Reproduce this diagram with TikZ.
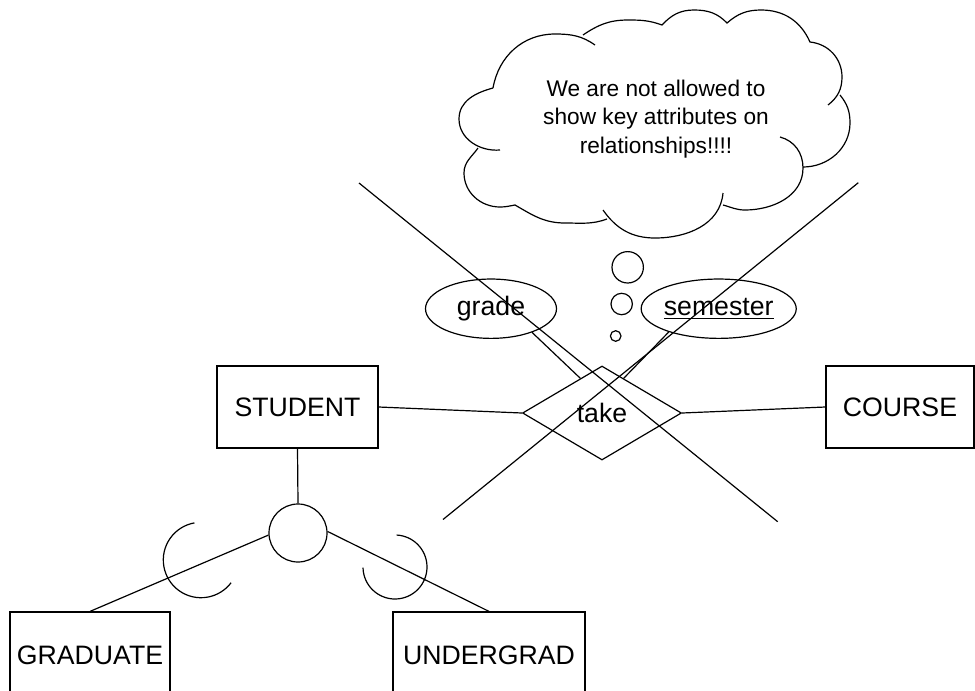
\documentclass[tikz,border=0pt]{standalone}
\usepackage{fontspec}
\setmainfont{Liberation Sans}
\usetikzlibrary{shapes.geometric}
\newcommand{\erfont}{\fontsize{20}{24}\selectfont}
\tikzset{
  entity/.style={draw, rectangle, inner sep=0pt, minimum height=61.5pt, font=\erfont},
  attrib/.style={draw, ellipse, inner sep=0pt, minimum height=44.5pt, font=\erfont},
  relship/.style={draw, diamond, aspect=1.7, inner sep=0pt, minimum width=119.25pt, minimum height=70.5pt, font=\erfont},
  isacircle/.style={draw, circle, inner sep=0pt, minimum size=43.5pt},
}

\begin{document}
\begin{tikzpicture}[x=0.75pt, y=0.75pt, line width=0.9pt]
\useasboundingbox (0,0) rectangle (975,-690);
\clip (0,0) rectangle (975,-690);
% Entities
\node[entity, minimum width=120.75pt] (student) at (297.5,-407) {STUDENT};
\node[entity, minimum width=111pt] (course) at (900,-407) {COURSE};
\node[entity, minimum width=120pt, minimum height=64.5pt] (graduate) at (90,-655) {GRADUATE};
\node[entity, minimum width=144pt, minimum height=64.5pt] (undergrad) at (489,-655) {UNDERGRAD};
% Relationship and its attributes
\node[relship] (take) at (602,-413) {take};
\node[attrib, minimum width=98.25pt] (grade) at (491,-308.7) {grade};
\node[attrib, minimum width=99.5pt] (semester) at (718.7,-308.7) {\underline{semester}};
\draw (student.east) -- (take.west);
\draw (take.east) -- (course.west);
\draw (grade.-30) -- (take.122);
\draw (semester.205) -- (take.58);
% Specialization
\node[isacircle] (isa) at (298,-533) {};
\draw (student.south) -- (isa.north);
\draw (isa.184) -- (graduate.north);
\draw (isa.3) -- (undergrad.north);
\draw ([shift={(100:37.7)}]201,-560) arc[start angle=100, end angle=323, radius=37.7];
\draw ([shift={(181:32)}]395,-567) arc[start angle=181, end angle=447, radius=32];
% Crossing out
\draw (359,-183) -- (777.7,-521.7);
\draw (443,-519.5) -- (858.3,-182.7);
% Thought bubbles
\foreach \bx/\by/\br in {627.7/-267.3/15.7, 621.7/-304/10.7, 615.7/-336/5.3} {
  \draw (\bx,\by) circle[radius=\br];
}
% Cloud
\draw (493,-88) to[out=80,in=180] (555,-34) to[out=0,in=145] (595,-45)
  (583,-35) to[out=34,in=180] (628,-20) to[out=0,in=160] (662,-25)
  to[out=47,in=180] (694,-10) to[out=0,in=134] (727,-23)
  to[out=41,in=180] (761,-10) to[out=0,in=114] (810,-42)
  to[out=-6,in=90] (842,-77) to[out=-90,in=38] (828,-105)
  (840,-95) to[out=-51,in=90] (850,-123) to[out=-90,in=0] (803,-167)
  (780,-137) to[out=-15,in=90] (803,-168) to[out=-90,in=0] (745,-210) to[out=180,in=-15] (723,-205)
  (723,-193) to[out=-95,in=0] (655,-238) to[out=180,in=-55] (603,-210)
  (607,-219) to[out=200,in=0] (565,-223) to[out=180,in=-30] (515,-205)
  to[out=190,in=0] (500,-207) to[out=180,in=-90] (464,-173) to[out=90,in=-125] (478,-148)
  (500,-150) to[out=185,in=-90] (459,-119) to[out=90,in=195] (493,-88);
\node[align=center, font=\fontsize{17}{21.5}\selectfont] (note) at (656,-119)
  {We are not allowed to\\show key attributes on\\relationships!!!!};
\end{tikzpicture}
\end{document}
